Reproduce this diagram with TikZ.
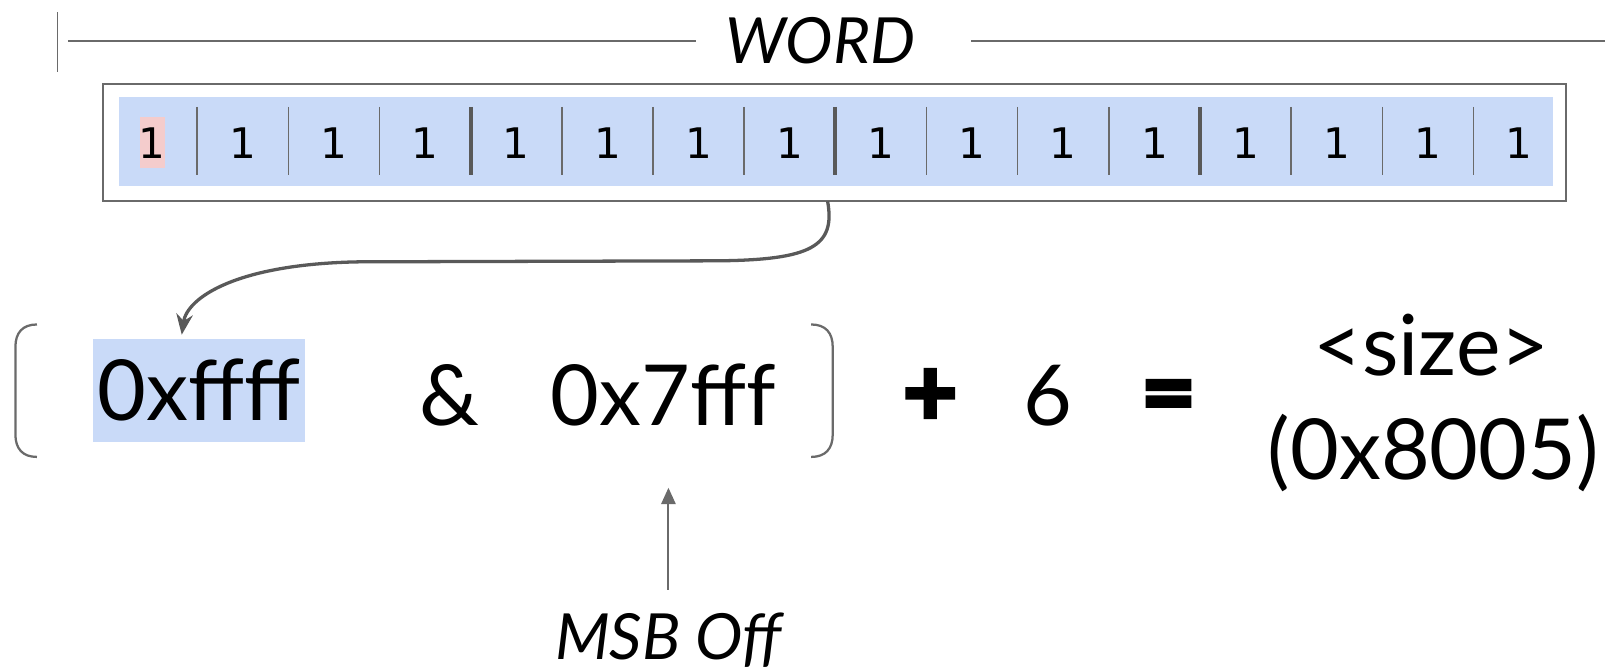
\documentclass[tikz,border=0pt]{standalone}
\usepackage{fontspec}
\setmainfont{Lato}
\newfontfamily\bitfont{DejaVu Sans}
\newfontfamily\heavyfont[FakeBold=4]{Lato}
\usetikzlibrary{arrows.meta}
\definecolor{bitblue}{HTML}{C9DAF8}
\definecolor{bitred}{HTML}{F4CCCC}
\definecolor{linegray}{HTML}{6A6A6A}
\definecolor{arrowgray}{HTML}{595959}
\begin{document}
\begin{tikzpicture}[x=0.5pt,y=-0.5pt,
  bit/.style={font=\bitfont\fontsize{20.5}{20.5}\selectfont, inner sep=0pt},
  big/.style={font=\fontsize{41}{41}\selectfont, inner sep=0pt, anchor=base},
  bigbold/.style={font=\heavyfont\bfseries\fontsize{46}{46}\selectfont, inner sep=0pt, anchor=base},
  lbl/.style={font=\itshape\fontsize{31}{31}\selectfont, inner sep=0pt},
  thinsep/.style={draw=linegray, line width=0.7pt},
  thicksep/.style={draw=arrowgray, line width=2pt},
  guide/.style={draw=linegray, line width=0.7pt},
  bracket/.style={draw=linegray, line width=1.1pt},
  curvearrow/.style={draw=arrowgray, line width=1.6pt, -{Stealth[length=10pt,width=8pt]}},
  uparrow/.style={draw=linegray, line width=1pt, -{Triangle[length=8pt,width=7pt]}},
]
\useasboundingbox (0,0) rectangle (1568,654);
% WORD guide
\node[lbl] (word) at (799,40) {WORD};
\coordinate (tickT) at (56,12);
\coordinate (tickB) at (56,70);
\coordinate (wl) at (66,40);
\coordinate (wr) at (1563,40);
\draw[guide] (tickT) -- (tickB);
\draw[guide] (wl) -- ([xshift=-14pt]word.west);
\draw[guide] ([xshift=27pt]word.east) -- (wr);
% word box
\node[draw=linegray, line width=0.9pt, minimum width=712.5pt, minimum height=57pt, inner sep=0pt] (box) at (812.5,139) {};
\node[fill=bitblue, minimum width=698pt, minimum height=43.5pt, inner sep=0pt] (fillbox) at (814,137.5) {};
\node[fill=bitred, minimum width=12.5pt, minimum height=25pt, inner sep=0pt] (msbhl) at (148.5,138.5) {};
\foreach \i in {0,...,15} {
  \node[bit] (b\i) at ({147.6+\i*88.79},139.5) {1};
}
\foreach \k in {1,...,15} {
  \pgfmathsetmacro{\sx}{192+(\k-1)*88.79}
  \ifnum\k=4 \def\sty{thicksep}\else\ifnum\k=8 \def\sty{thicksep}\else\ifnum\k=12 \def\sty{thicksep}\else\def\sty{thinsep}\fi\fi\fi
  \draw[\sty] (\sx,104) -- (\sx,170);
}
% expression
\node[big, fill=bitblue, anchor=center, minimum width=103pt, minimum height=50pt] (hex1) at (194,380) {0xffff};
\node[big] (amp) at (438,414) {\&};
\node[big] (hex2) at (646,414) {0x7fff};
\node[bigbold] (plus) at (906,414) {+};
\node[big] (six) at (1021,414) {6};
\node[bigbold] (eq) at (1138,414) {=};
\node[big] (size) at (1394,366) {<size>};
\node[big] (res) at (1396,467) {(0x8005)};
% brackets
\draw[bracket] (36,316) .. controls (22,316) and (15,324) .. (15,338) -- (15,423) .. controls (15,437) and (22,445) .. (36,445);
\draw[bracket] (790,316) .. controls (804,316) and (811,324) .. (811,338) -- (811,423) .. controls (811,437) and (804,445) .. (790,445);
% curved arrow
\coordinate (src) at (806,196);
\coordinate (tip) at (177,326);
\draw[curvearrow] (src) .. controls (814,240) and (790,253) .. (700,254) -- (350,255) .. controls (230,257) and (182,290) .. (tip);
% MSB Off
\node[lbl, anchor=base] (msb) at (651,642) {MSB Off};
\draw[uparrow, shorten <=11pt, shorten >=30pt] (msb.north) -- (msb.north |- hex2.south);
\end{tikzpicture}
\end{document}
